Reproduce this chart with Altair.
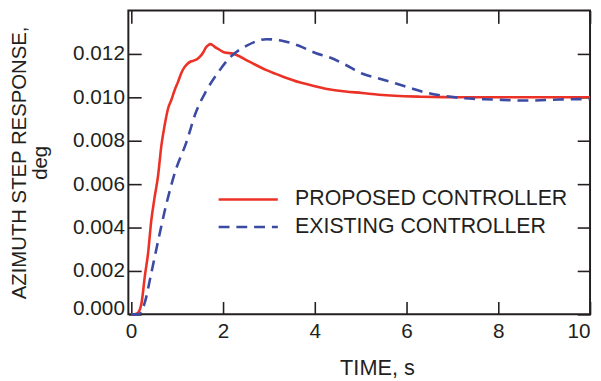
import altair as alt
import pandas as pd

# Proposed controller (red, solid)
prop_t = [0, 0.1, 0.16, 0.23, 0.30, 0.37, 0.44, 0.50, 0.59, 0.66, 0.73, 0.80, 0.88, 0.95, 1.02, 1.09,
          1.16, 1.23, 1.30, 1.38, 1.45, 1.52, 1.58, 1.63, 1.68, 1.73, 1.78, 1.84, 1.92, 2.02, 2.24,
          2.59, 2.95, 3.31, 3.67, 4.03, 4.31, 4.67, 5.03, 5.4, 5.75, 6.3, 6.82, 7.5, 8.5, 10]
prop_y = [0, 0.00002, 0.0001, 0.00056, 0.00177, 0.00282, 0.00433, 0.00523, 0.00643, 0.00779, 0.0087,
          0.00944, 0.0099, 0.01034, 0.0107, 0.0111, 0.01138, 0.01155, 0.01165, 0.0117, 0.01178,
          0.01192, 0.0121, 0.0123, 0.0124, 0.01245, 0.0124, 0.0123, 0.0122, 0.01208, 0.0120,
          0.01163, 0.01125, 0.01095, 0.01069, 0.0105, 0.01037, 0.01027, 0.0102, 0.01012, 0.01007,
          0.01003, 0.01001, 0.0100, 0.0100, 0.0100]

# Existing controller (blue, dashed)
exist_t = [0, 0.1, 0.19, 0.30, 0.44, 0.59, 0.77, 0.98, 1.20, 1.41, 1.63, 1.88, 2.16, 2.52, 2.95,
           3.31, 3.74, 4.03, 4.31, 4.67, 5.03, 5.4, 5.75, 6.1, 6.46, 6.82, 7.18, 7.9, 8.62, 9.33, 10]
exist_y = [0, 0, 0.00003, 0.00056, 0.0019, 0.0034, 0.0051, 0.0067, 0.0079, 0.0093, 0.01027, 0.0111,
           0.01185, 0.01238, 0.01268, 0.0126, 0.0123, 0.01203, 0.01185, 0.0115, 0.0111, 0.01087,
           0.01065, 0.01042, 0.0102, 0.01007, 0.00997, 0.0099, 0.00985, 0.0099, 0.00992]

series_names = ["PROPOSED CONTROLLER", "EXISTING CONTROLLER"]
x_ticks = [0, 2, 4, 6, 8, 10]
y_ticks = [0, 0.002, 0.004, 0.006, 0.008, 0.010, 0.012]

RED = "#ec3226"
BLUE = "#3b4aa3"
INK = "#231f20"
FONT = "Liberation Sans"

df_p = pd.DataFrame({"t": prop_t, "y": prop_y, "series": series_names[0]})
df_e = pd.DataFrame({"t": exist_t, "y": exist_y, "series": series_names[1]})

xscale = alt.Scale(domain=[-0.06, 10], nice=False, zero=False)
yscale = alt.Scale(domain=[0, 0.014], nice=False, zero=False)

base_axis = dict(grid=False, domain=False, tickSize=13, offset=-13, tickColor=INK, tickWidth=1.6,
                 labelFont=FONT, labelFontSize=21, labelColor=INK, titleFont=FONT,
                 titleColor=INK, titleFontWeight="normal")

legend_common = dict(title=None, orient="none", legendX=90, symbolType="stroke", symbolSize=3600,
                     symbolStrokeWidth=2.6, labelFont=FONT, labelFontSize=21.6, labelColor=INK,
                     labelOffset=16, labelLimit=400)

red_line = alt.Chart(df_p).mark_line(color=RED, strokeWidth=2.6, interpolate="monotone").encode(
    x=alt.X("t:Q", scale=xscale,
            axis=alt.Axis(orient="bottom", values=x_ticks, format="d", title="TIME, s",
                          titleFontSize=22, labelPadding=6, titlePadding=17, titleX=252,
                          **base_axis)),
    y=alt.Y("y:Q", scale=yscale,
            axis=alt.Axis(orient="left", values=y_ticks, format=".3f", labelFlush=True,
                          labelFlushOffset=4,
                          title=["AZIMUTH STEP RESPONSE,", "deg"], titleFontSize=20.6,
                          titleLineHeight=22, labelPadding=4, titlePadding=22, **base_axis)),
    color=alt.Color("series:N", scale=alt.Scale(domain=[series_names[0]], range=[RED]),
                    legend=alt.Legend(legendY=160, **legend_common)),
)

blue_line = alt.Chart(df_e).mark_line(color=BLUE, strokeWidth=2.6, strokeDash=[11, 7],
                                      interpolate="monotone").encode(
    x=alt.X("t:Q", scale=xscale,
            axis=alt.Axis(orient="top", values=x_ticks, labels=False, title=None, **base_axis)),
    y=alt.Y("y:Q", scale=yscale,
            axis=alt.Axis(orient="right", values=y_ticks, labels=False, title=None, **base_axis)),
    color=alt.Color("series:N", scale=alt.Scale(domain=[series_names[1]], range=[BLUE]),
                    legend=alt.Legend(legendY=188, symbolDash=[11, 7], **legend_common)),
)

chart = alt.layer(red_line, blue_line).resolve_scale(
    x="shared", y="shared", color="independent"
).resolve_axis(
    x="independent", y="independent"
).resolve_legend(
    color="independent"
).properties(
    width=468, height=308,
    autosize=alt.AutoSizeParams(type="none"),
    padding={"left": 122, "top": 0, "right": 3, "bottom": 65},
).configure_view(
    stroke=INK, strokeWidth=2
)

chart.save("out.html", embed_options={"renderer": "svg", "actions": False})
